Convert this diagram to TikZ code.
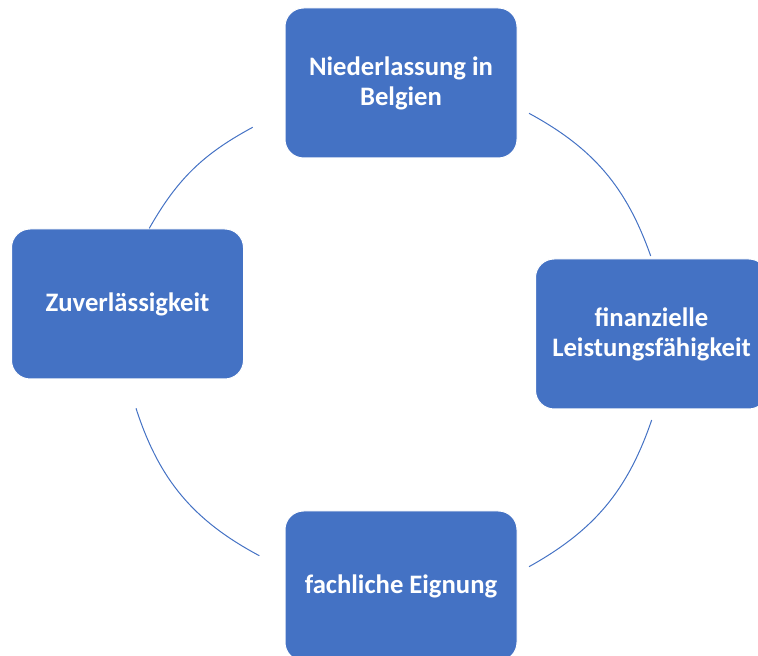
\documentclass[tikz,border=0pt]{standalone}
\usepackage{fontspec}
\setmainfont{Carlito}
\definecolor{boxblue}{HTML}{4472C4}
\begin{document}
\begin{tikzpicture}[x=0.75pt,y=0.75pt,
    stagebox/.style={fill=boxblue,draw=white,line width=0.75pt,rounded corners=14pt,
        minimum width=174pt,minimum height=112.5pt,inner sep=0pt,align=center,
        text=white,font=\fontsize{20}{22.5}\selectfont\bfseries},
    cyclearc/.style={draw=boxblue,line width=0.75pt}]
    \useasboundingbox (0,0) rectangle (758,656);
    \clip (0,0) rectangle (758,656);
    \node[stagebox] (niederlassung) at (401,573) {Niederlassung in\\Belgien};
    \node[stagebox] (zuverl) at (127.5,352) {Zuverlässigkeit};
    \node[stagebox] (finanz) at (651.5,322) {finanzielle\\Leistungsfähigkeit};
    \node[stagebox] (fachlich) at (401,70) {fachliche Eignung};
    \foreach \n/\x/\y in {p1/252.7/528.7, p2/149.3/427.7, p3/136/247.7, p4/259.3/100.3,
                          p5/529/89.3, p6/651.7/236, p7/650.7/400, p8/529/542.7} {
        \coordinate (\n) at (\x,\y);
    }
    \foreach \a/\b/\bend in {p7/p8/21, p1/p2/16, p3/p4/22, p5/p6/21} {
        \draw[cyclearc] (\a) to[bend right=\bend] (\b);
    }
\end{tikzpicture}
\end{document}
